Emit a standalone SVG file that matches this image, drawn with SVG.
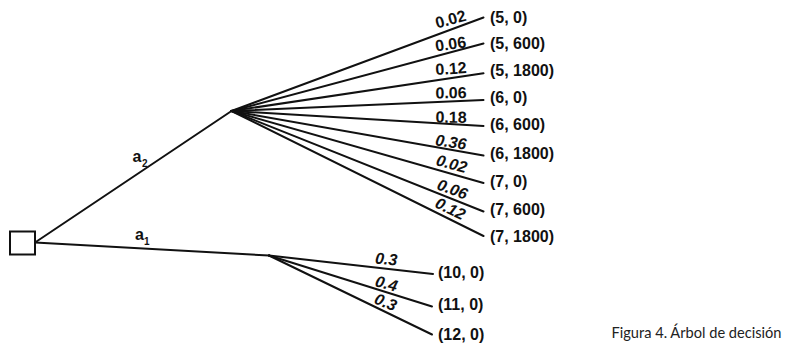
<svg xmlns="http://www.w3.org/2000/svg" width="789" height="353" viewBox="0 0 789 353">
<style>
.edge{stroke:#111;stroke-width:2;fill:none;stroke-linecap:round}
.out{font-family:"Liberation Sans",Arial,sans-serif;font-weight:bold;font-size:16px;fill:#111}
.p{font-family:"Liberation Sans",Arial,sans-serif;font-weight:bold;font-size:16px;fill:#111;text-anchor:middle}
.pi{font-style:italic}
.act{font-family:"Liberation Sans",Arial,sans-serif;font-weight:bold;font-size:16px;fill:#111}
.sub{font-size:10px}
.cap{font-family:Lato,"Liberation Sans",sans-serif;font-size:15px;fill:#222}
</style>
<rect width="789" height="353" fill="#fff"/>
<g id="connectors">
  <line class="edge" x1="35" y1="242.5" x2="231.5" y2="111"/>
  <line class="edge" x1="35" y1="242.5" x2="269" y2="255.5"/>
  <line class="edge" x1="231.5" y1="111" x2="483.5" y2="17.5"/>
  <line class="edge" x1="231.5" y1="111" x2="483.5" y2="43.5"/>
  <line class="edge" x1="231.5" y1="111" x2="483.5" y2="73.3"/>
  <line class="edge" x1="231.5" y1="111" x2="483.5" y2="100"/>
  <line class="edge" x1="231.5" y1="111" x2="483.5" y2="126"/>
  <line class="edge" x1="231.5" y1="111" x2="483.5" y2="155.5"/>
  <line class="edge" x1="231.5" y1="111" x2="483.5" y2="183"/>
  <line class="edge" x1="231.5" y1="111" x2="483.5" y2="211.5"/>
  <line class="edge" x1="231.5" y1="111" x2="483.5" y2="236"/>
  <line class="edge" x1="269" y1="255.5" x2="433" y2="274"/>
  <line class="edge" x1="269" y1="255.5" x2="432" y2="306.5"/>
  <line class="edge" x1="269" y1="255.5" x2="432" y2="334.5"/>
</g>
<g id="edge-labels">
  <text class="act" x="132.5" y="161.5">a<tspan class="sub" x="142" y="166.5">2</tspan></text>
  <text class="act" x="135" y="239.5">a<tspan class="sub" x="144" y="244.5">1</tspan></text>
  <text class="p" transform="translate(450.5,19) rotate(-15)" y="5.7">0.02</text>
  <text class="p" transform="translate(450.5,43.8) rotate(-8)" y="5.7">0.06</text>
  <text class="p" transform="translate(451,68.3) rotate(-4)" y="5.7">0.12</text>
  <text class="p" transform="translate(451,92.6) rotate(-0.5)" y="5.7">0.06</text>
  <text class="p" transform="translate(451,117) rotate(0.5)" y="5.7">0.18</text>
  <text class="p pi" transform="translate(451,141.8) rotate(8)" y="5.7">0.36</text>
  <text class="p pi" transform="translate(451.7,163.5) rotate(15)" y="5.7">0.02</text>
  <text class="p pi" transform="translate(452.5,189) rotate(20)" y="5.7">0.06</text>
  <text class="p pi" transform="translate(450.5,208.5) rotate(26)" y="5.7">0.12</text>
  <text class="p pi" transform="translate(386.3,258.8) rotate(5)" y="5.7">0.3</text>
  <text class="p pi" transform="translate(386.5,283.3) rotate(15)" y="5.7">0.4</text>
  <text class="p pi" transform="translate(385.8,302) rotate(22)" y="5.7">0.3</text>
</g>
<g id="decision-node">
  <rect x="10" y="231.5" width="25" height="23" fill="#fff" stroke="#111" stroke-width="2"/>
</g>
<g id="chance-node-a2"><circle cx="231.5" cy="111" r="1.2" fill="#111"/></g>
<g id="chance-node-a1"><circle cx="269" cy="255.5" r="1" fill="#111"/></g>
<g id="outcome-5-0"><text class="out" x="490" y="23">(5, 0)</text></g>
<g id="outcome-5-600"><text class="out" x="490" y="49">(5, 600)</text></g>
<g id="outcome-5-1800"><text class="out" x="490" y="76">(5, 1800)</text></g>
<g id="outcome-6-0"><text class="out" x="490" y="103">(6, 0)</text></g>
<g id="outcome-6-600"><text class="out" x="490" y="130">(6, 600)</text></g>
<g id="outcome-6-1800"><text class="out" x="490" y="159">(6, 1800)</text></g>
<g id="outcome-7-0"><text class="out" x="490" y="187">(7, 0)</text></g>
<g id="outcome-7-600"><text class="out" x="490" y="214.5">(7, 600)</text></g>
<g id="outcome-7-1800"><text class="out" x="490" y="242">(7, 1800)</text></g>
<g id="outcome-10-0"><text class="out" x="438" y="278">(10, 0)</text></g>
<g id="outcome-11-0"><text class="out" x="438" y="310">(11, 0)</text></g>
<g id="outcome-12-0"><text class="out" x="438" y="340">(12, 0)</text></g>
<text class="cap" x="611.5" y="338" textLength="170" lengthAdjust="spacingAndGlyphs">Figura 4. Árbol de decisión</text>
</svg>
